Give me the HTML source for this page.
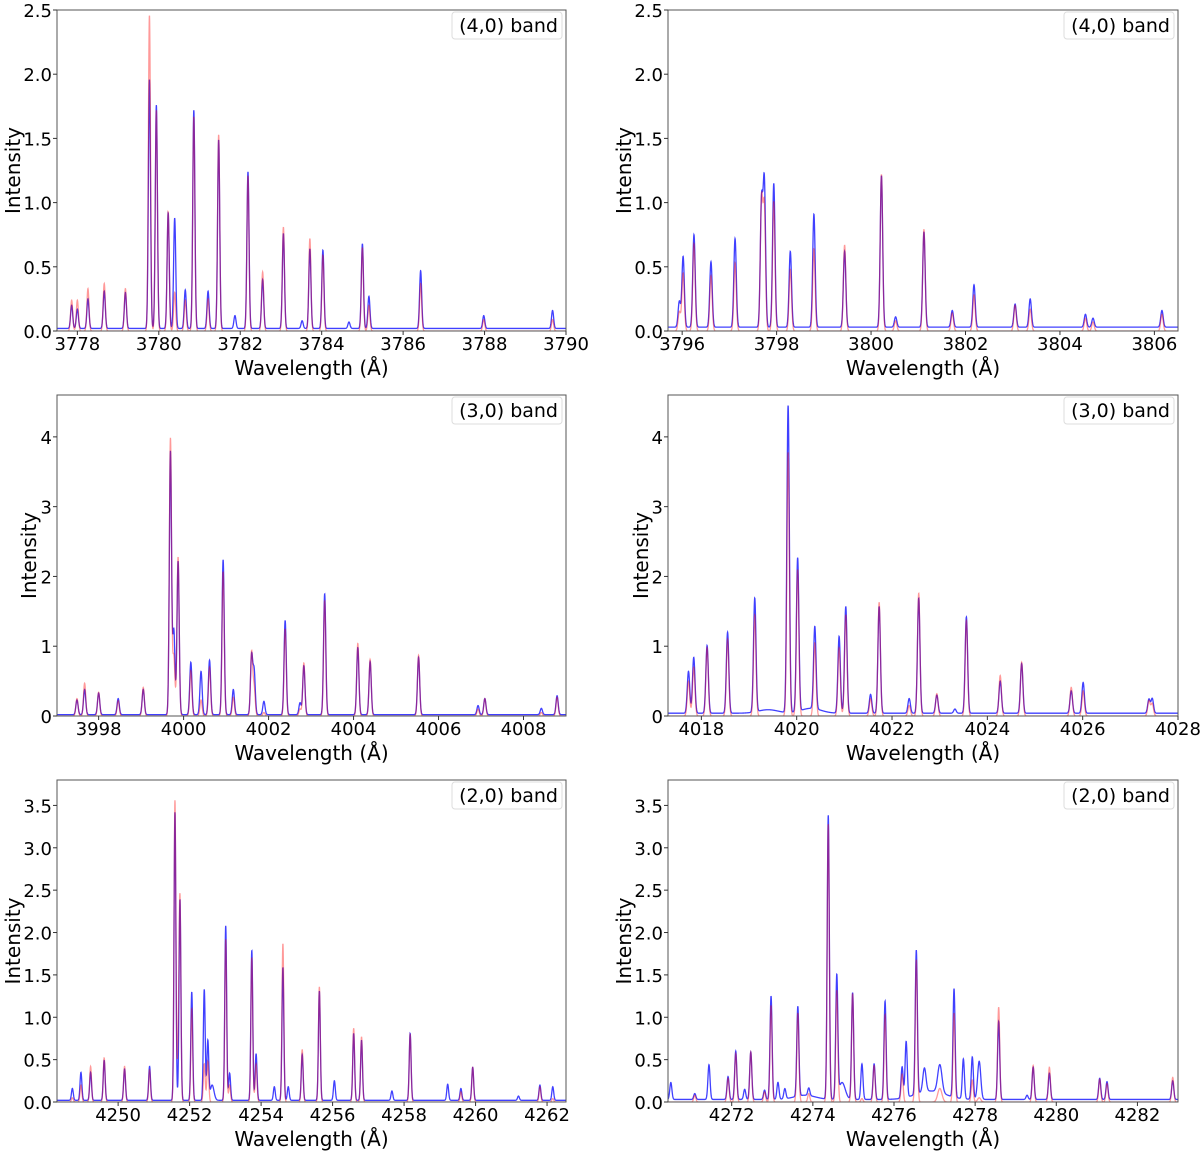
<!DOCTYPE html>
<html><head><meta charset="utf-8"><style>
body{margin:0;background:#fff;}
svg{display:block;font-family:"DejaVu Sans","Liberation Sans",sans-serif;}
</style></head><body>
<svg id="fig" width="1200" height="1154" viewBox="0 0 1200 1154" xmlns="http://www.w3.org/2000/svg"></svg>
<script>
// ---- data: peaks [center(Å), blueHeight, redHeight, widthFactor] ----
const p1Peaks=[[3777.86,.18,.24],[3778.0,.15,.24],[3778.26,.23,.33],[3778.66,.29,.37],[3779.18,.28,.33],[3779.77,1.94,2.46],[3779.94,1.74,1.72],[3780.23,.90,.93],[3780.39,.86,.30],[3780.65,.30,.24],[3780.86,1.70,1.67],[3781.21,.29,.25],[3781.47,1.47,1.53],[3781.87,.10,0],[3782.19,1.22,1.21],[3782.55,.38,.46],[3783.06,.74,.81],[3783.52,.06,0],[3783.71,.62,.72],[3784.03,.61,.59],[3784.67,.05,0],[3785.0,.66,.65],[3785.16,.25,.20],[3786.43,.45,.37],[3787.98,.10,.09],[3789.67,.14,.09]];
const p2Peaks=[[3795.94,.20,.15],[3796.02,.55,.45],[3796.25,.72,.68],[3796.61,.51,.43],[3797.12,.69,.53],[3797.68,.96,1.0],[3797.74,1.12,.95],[3797.94,1.12,1.01],[3798.29,.59,.48],[3798.79,.88,.64],[3799.44,.59,.67],[3800.22,1.18,1.22],[3800.52,.08,.08],[3801.12,.74,.79],[3801.72,.13,.14],[3802.18,.33,.28],[3803.05,.18,.20],[3803.37,.22,.17],[3804.54,.10,.10],[3804.70,.07,.07],[3806.16,.13,.13]];
const p3Peaks=[[3997.49,.21,.25],[3997.67,.36,.47],[3998.0,.31,.34],[3998.46,.23,.22],[3999.05,.36,.41],[3999.69,3.77,3.98],[3999.77,1.2,.85],[3999.87,2.2,2.28],[4000.17,.75,.65],[4000.41,.62,.23],[4000.61,.78,.70],[4000.93,2.22,2.07],[4001.17,.36,.27],[4001.60,.84,.91],[4001.66,.62,.40],[4001.89,.19,.05],[4002.39,1.35,1.25],[4002.74,.17,.10],[4002.83,.70,.76],[4003.32,1.73,1.65],[4004.10,.96,1.04],[4004.39,.76,.81],[4005.53,.82,.87],[4006.93,.13,.10],[4007.09,.23,.25],[4008.42,.09,.05],[4008.79,.27,.27]];
const p4Peaks=[[4017.73,.60,.50],[4017.84,.80,.70],[4018.12,.97,.98],[4018.55,1.16,1.10],[4019.12,1.63,1.45],[4019.82,4.40,3.78],[4020.02,2.20,2.10],[4020.38,1.18,1.05],[4020.89,1.10,.98],[4021.03,1.53,1.45],[4021.55,.27,.25],[4021.73,1.53,1.63],[4022.36,.21,.15],[4022.56,1.65,1.76],[4022.94,.26,.32],[4023.32,.06,0],[4023.56,1.38,1.37],[4024.27,.46,.58],[4024.72,.71,.77],[4025.76,.32,.41],[4026.01,.44,.36],[4027.39,.20,.22],[4027.46,.21,.18],[4019.4,.05,0,8],[4020.3,.07,0,8]];
const p5Peaks=[[4248.72,.14,.05],[4248.96,.33,.2],[4249.23,.33,.42],[4249.61,.47,.52],[4250.18,.37,.42],[4250.88,.40,.38],[4251.59,3.40,3.56],[4251.68,0,.5],[4251.73,2.37,2.38],[4252.06,1.28,1.10],[4252.41,1.31,.45],[4252.51,.70,.48],[4252.63,.18,0,2],[4253.01,2.06,1.92],[4253.12,.32,.2],[4253.74,1.77,1.70],[4253.86,.55,.45],[4254.37,.16,0],[4254.61,1.57,1.87],[4254.76,.16,0],[4255.15,.54,.62],[4255.63,1.29,1.36],[4256.05,.23,0],[4256.59,.79,.87],[4256.81,.71,.77],[4257.66,.11,0],[4258.17,.79,.80],[4259.22,.19,0],[4259.59,.14,.12],[4259.92,.39,.41],[4261.2,.05,0],[4261.80,.18,.18],[4262.16,.16,.04]];
const p6Peaks=[[4270.50,.20,0],[4271.09,.07,.08],[4271.44,.41,0],[4271.91,.27,.28],[4272.1,.57,.57],[4272.32,.12,0],[4272.47,.56,.59],[4272.81,.11,.12],[4272.97,1.22,1.14],[4273.14,.2,0],[4273.31,.12,0],[4273.63,1.06,1.05],[4273.90,.09,.1],[4274.38,3.35,3.28],[4274.59,1.43,1.32],[4274.72,.2,0,3],[4274.98,1.26,1.28],[4275.21,.42,.04],[4275.51,.42,.43],[4275.78,1.16,1.03],[4276.2,.37,.33],[4276.30,.66,0],[4276.55,1.70,1.68],[4276.75,.28,0,1.5],[4277.13,.33,.16,2],[4277.48,1.28,1.05],[4277.71,.47,0],[4277.93,.50,.26],[4278.10,.45,.05,1.5],[4278.58,.92,1.12],[4279.28,.05,0],[4279.43,.38,.43],[4279.83,.31,.41],[4281.07,.25,.27],[4281.25,.21,.22],[4282.87,.22,.29],[4273.8,.05,0,10],[4276.9,.1,0,14]];
const p1XTicks=[3778,3780,3782,3784,3786,3788,3790];
const p2XTicks=[3796,3798,3800,3802,3804,3806];
const p3XTicks=[3998,4000,4002,4004,4006,4008];
const p4XTicks=[4018,4020,4022,4024,4026,4028];
const p5XTicks=[4250,4252,4254,4256,4258,4260,4262];
const p6XTicks=[4272,4274,4276,4278,4280,4282];
const yTicksA=["0.0","0.5","1.0","1.5","2.0","2.5"];
const yTicksB=["0","1","2","3","4"];
const yTicksC=["0.0","0.5","1.0","1.5","2.0","2.5","3.0","3.5"];
const bandLabels=["(4,0) band","(3,0) band","(2,0) band"];
const blueBaselines=[0.02,0.03,0.02,0.04,0.02,0.03];

const panels=[
 {id:'p1',L:57,R:566,T:10,B:331,x0:3777.5,x1:3790,y1:2.5,peaks:p1Peaks,xt:p1XTicks,yt:yTicksA,band:bandLabels[0],ylx:20,bl:blueBaselines[0]},
 {id:'p2',L:668,R:1178,T:10,B:331,x0:3795.7,x1:3806.5,y1:2.5,peaks:p2Peaks,xt:p2XTicks,yt:yTicksA,band:bandLabels[0],ylx:631,bl:blueBaselines[1]},
 {id:'p3',L:57,R:566,T:395,B:716,x0:3997.02,x1:4009,y1:4.6,peaks:p3Peaks,xt:p3XTicks,yt:yTicksB,band:bandLabels[1],ylx:36,bl:blueBaselines[2]},
 {id:'p4',L:668,R:1178,T:395,B:716,x0:4017.3,x1:4028,y1:4.6,peaks:p4Peaks,xt:p4XTicks,yt:yTicksB,band:bandLabels[1],ylx:648,bl:blueBaselines[3]},
 {id:'p5',L:57,R:566,T:780,B:1102,x0:4248.29,x1:4262.53,y1:3.8,peaks:p5Peaks,xt:p5XTicks,yt:yTicksC,band:bandLabels[2],ylx:20,bl:blueBaselines[4]},
 {id:'p6',L:668,R:1178,T:780,B:1102,x0:4270.43,x1:4283.0,y1:3.8,peaks:p6Peaks,xt:p6XTicks,yt:yTicksC,band:bandLabels[2],ylx:631,bl:blueBaselines[5]}
];
const NS='http://www.w3.org/2000/svg';
const svg=document.getElementById('fig');
function mk(tag,attrs,parent){const e=document.createElementNS(NS,tag);for(const k in attrs)e.setAttribute(k,attrs[k]);(parent||svg).appendChild(e);return e;}
const SIG=0.026;
function spec(peaks,x,col,base){let s=base;for(const p of peaks){const w=SIG*(p[3]||1);const d=(x-p[0])/w;if(Math.abs(d)<8)s+=p[col]*Math.exp(-0.5*d*d);}return s;}
panels.forEach((P,i)=>{
 const g=mk('g',{});
 
 
 const xs=v=>P.L+(v-P.x0)/(P.x1-P.x0)*(P.R-P.L);
 const ys=v=>P.B-v/P.y1*(P.B-P.T);
 const cid='clip'+i;
 const cp=mk('clipPath',{id:cid},g);mk('rect',{x:P.L,y:P.T,width:P.R-P.L,height:P.B-P.T},cp);
 const N=3500;
 let db='',dr='';
 for(let k=0;k<=N;k++){const x=P.x0+(P.x1-P.x0)*k/N;
  db+=(k?'L':'M')+xs(x).toFixed(2)+' '+ys(spec(P.peaks,x,1,P.bl)).toFixed(2);
  dr+=(k?'L':'M')+xs(x).toFixed(2)+' '+ys(spec(P.peaks,x,2,0)).toFixed(2);}
 const lb=mk('path',{d:db,fill:'none',stroke:'#0000ff','stroke-opacity':0.75,'stroke-width':1.3,'clip-path':'url(#'+cid+')'},g);
 
 
 const lr=mk('path',{d:dr,fill:'none',stroke:'#ff0000','stroke-opacity':0.4,'stroke-width':1.3,'clip-path':'url(#'+cid+')'},g);
 
 
 const fr=mk('rect',{x:P.L,y:P.T,width:P.R-P.L,height:P.B-P.T,fill:'none',stroke:'#555','stroke-width':1},g);
 
 
 P.xt.forEach(t=>{const x=xs(t);mk('line',{x1:x,x2:x,y1:P.B,y2:P.B+4,stroke:'#333'},g);
  const tx=mk('text',{x:x,y:P.B+19,'text-anchor':'middle','font-size':18,fill:'#000'},g);tx.textContent=t;
  
  });
 P.yt.forEach(t=>{const y=ys(parseFloat(t));mk('line',{x1:P.L-4,x2:P.L,y1:y,y2:y,stroke:'#333'},g);
  const tx=mk('text',{x:P.L-5,y:y+7,'text-anchor':'end','font-size':18,fill:'#000'},g);tx.textContent=t;
  
  });
 const xl=mk('text',{x:(P.L+P.R)/2,y:P.B+44,'text-anchor':'middle','font-size':20,fill:'#000'},g);xl.textContent='Wavelength (Å)';
 
 
 const yc=(P.T+P.B)/2;
 const yl=mk('text',{x:P.ylx,y:yc,'text-anchor':'middle','font-size':20,fill:'#000',transform:'rotate(-90 '+P.ylx+' '+yc+')'},g);yl.textContent='Intensity';
 
 
 const lg=mk('rect',{x:P.R-114,y:P.T+2,width:110,height:27,rx:3,fill:'#fff',stroke:'#ddd'},g);
 
 
 const lt=mk('text',{x:P.R-8,y:P.T+22,'text-anchor':'end','font-size':19,fill:'#000'},g);lt.textContent=P.band;
 
 
});
</script>
</body></html>
